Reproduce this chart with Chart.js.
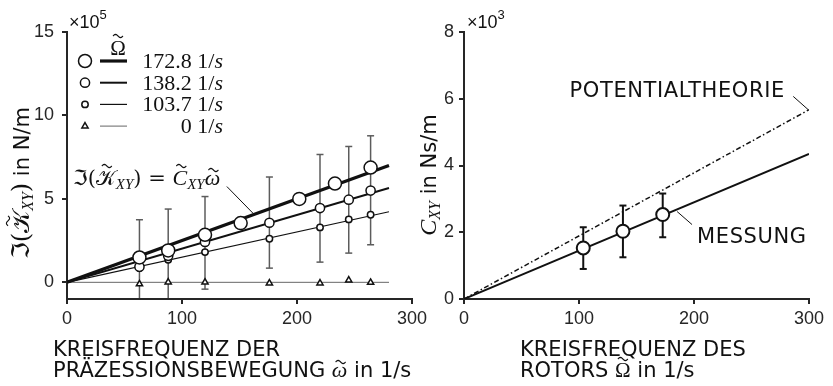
<!DOCTYPE html>
<html>
<head>
<meta charset="utf-8">
<script src="https://cdn.jsdelivr.net/npm/chart.js@4.4.1/dist/chart.umd.min.js"></script>
<style>
  html, body { margin: 0; padding: 0; background: #fff; }
  #wrap { position: relative; width: 833px; height: 386px; overflow: hidden; }
  canvas { position: absolute; top: 0; }
  #left { left: 0; width: 440px; height: 386px; }
  #right { left: 420px; width: 413px; height: 386px; }
</style>
</head>
<body>
<div id="wrap">
  <canvas id="left" width="440" height="386"></canvas>
  <canvas id="right" width="413" height="386"></canvas>
</div>
<script>
// Im(K_XY) [x10^5 N/m] over precession frequency, one set per rotor speed
const omega172 = [63, 88, 120, 151, 202, 233, 264];
const imK172   = [1.49, 1.91, 2.85, 3.55, 5.00, 5.92, 6.88];

const omega138 = [63, 88, 120, 176, 220, 245, 264];
const imK138   = [0.93, 1.59, 2.42, 3.57, 4.45, 4.95, 5.50];
const imK138Hi = [3.75, 4.39, 5.14, 6.31, 7.66, 8.14, 8.78];
const imK138Lo = [-1.90, -1.25, -0.41, 0.85, 1.21, 1.75, 2.25];

const omega104 = [63, 88, 120, 176, 220, 245, 264];
const imK104   = [0.86, 1.35, 1.81, 2.61, 3.29, 3.77, 4.05];

const omega0 = [63, 88, 120, 176, 220, 245, 264];
const imK0   = [-0.10, 0.01, 0.00, -0.05, -0.05, 0.13, -0.01];

// fitted lines Im(K) = C * omega, evaluated at 0 and 280 1/s
const fitOmega = [0, 280];
const fit172 = [0, 7.00];
const fit138 = [0, 5.65];
const fit104 = [0, 4.23];
const fit0   = [0, 0];

// C_XY [x10^3 Ns/m] over rotor speed
const rotorSpeed = [103.7, 138.2, 172.8];
const cxy   = [1.53, 2.03, 2.53];
const cxyHi = [2.15, 2.80, 3.16];
const cxyLo = [0.90, 1.25, 1.85];
const lineSpeed  = [0, 300];
const cxyMessung = [0, 4.35];
const cxyTheorie = [0, 5.67];

// tick labels
const leftXTicks  = [0, 100, 200, 300];
const leftYTicks  = [0, 5, 10, 15];
const rightXTicks = [0, 100, 200, 300];
const rightYTicks = [0, 2, 4, 6, 8];

const INK  = '#111111';
const AXIS = '#262626';
const BAR  = '#5c5c5c';
const SANS  = '"DejaVu Sans", Verdana, sans-serif';
const TICK  = '"Liberation Sans", Arial, sans-serif';
const SERIF = '"Liberation Serif", "DejaVu Serif", "DejaVu Sans", "Noto Sans", serif';
const MATH  = '"DejaVu Serif", "DejaVu Sans", "Noto Sans", serif';

const pts = (xs, ys) => xs.map((x, i) => ({ x: x, y: ys[i] }));

const series = [
  { label: '172.8', xs: omega172, ys: imK172, fit: fit172, style: 'circle',   r: 6.5, lw: 3.2, color: INK },
  { label: '138.2', xs: omega138, ys: imK138, fit: fit138, style: 'circle',   r: 4.6, lw: 2.0, color: INK },
  { label: '103.7', xs: omega104, ys: imK104, fit: fit104, style: 'circle',   r: 3.2, lw: 1.2, color: INK },
  { label: '0',     xs: omega0,   ys: imK0,   fit: fit0,   style: 'triangle', r: 3.6, lw: 1.0, color: '#666' }
];

// small wavy accent drawn above a glyph
function drawTilde(ctx, cx, cy, w) {
  ctx.save();
  ctx.strokeStyle = ctx.fillStyle;
  ctx.lineWidth = 1.1;
  ctx.beginPath();
  for (let i = 0; i <= 12; i++) {
    const t = i / 12;
    const px = cx - w / 2 + t * w;
    const py = cy - Math.sin(t * Math.PI * 2) * 1.6;
    if (i === 0) ctx.moveTo(px, py); else ctx.lineTo(px, py);
  }
  ctx.stroke();
  ctx.restore();
}

/**
 * Draw a run of text pieces with their own fonts on one baseline.
 * Pieces may carry a tilde accent: { tilde: heightAboveBaseline, tx: xShift }
 */
function drawRich(ctx, parts, x, y, align, spacing) {
  ctx.letterSpacing = (spacing || 0) + 'px';
  let w = 0;
  parts.forEach(p => { ctx.font = p.font; w += ctx.measureText(p.text).width; });
  let cx = align === 'center' ? x - w / 2 : align === 'right' ? x - w : x;
  ctx.textAlign = 'left';
  ctx.textBaseline = 'alphabetic';
  parts.forEach(p => {
    ctx.font = p.font;
    const gw = ctx.measureText(p.text).width;
    ctx.fillText(p.text, cx, y + (p.dy || 0));
    if (p.tilde) drawTilde(ctx, cx + gw / 2 + (p.tx || 0), y - p.tilde, Math.min(gw * 0.8, 10));
    cx += gw;
  });
  ctx.letterSpacing = '0px';
}

function line(ctx, x1, y1, x2, y2) {
  ctx.beginPath();
  ctx.moveTo(x1, y1);
  ctx.lineTo(x2, y2);
  ctx.stroke();
}

/**
 * Axis options: only left/bottom spines, outward ticks, fixed tick list
 */
function axisOpts(min, max, ticks, size, isX, pad) {
  return {
    type: 'linear',
    min: min,
    max: max,
    afterBuildTicks: s => { s.ticks = ticks.map(v => ({ value: v })); },
    afterFit: s => { if (isX) s.height = size; else s.width = size; },
    grid: { drawOnChartArea: false, drawTicks: true, tickLength: 5, color: AXIS, lineWidth: 2 },
    border: { display: true, color: AXIS, width: 2 },
    ticks: {
      color: AXIS,
      font: { family: TICK, size: 18 },
      padding: pad,
      maxRotation: 0,
      autoSkip: false
    }
  };
}

// vertical error bars with caps, clipped to the plot area
const errorBars = {
  id: 'errorBars',
  beforeDatasetsDraw(chart, args, o) {
    const { ctx, chartArea: a, scales: { x, y } } = chart;
    ctx.save();
    ctx.beginPath();
    ctx.rect(a.left, a.top - 2, a.width, a.height + 1);
    ctx.clip();
    ctx.strokeStyle = o.color;
    ctx.lineWidth = o.width;
    o.xs.forEach((v, i) => {
      const px = x.getPixelForValue(v);
      const top = y.getPixelForValue(o.hi[i]);
      const bot = y.getPixelForValue(o.lo[i]);
      line(ctx, px, top, px, bot);
      line(ctx, px - o.cap, top, px + o.cap, top);
      line(ctx, px - o.cap, bot, px + o.cap, bot);
    });
    ctx.restore();
  }
};

const overlay = {
  id: 'overlay',
  afterDraw(chart, args, o) { if (o.draw) o.draw(chart); }
};

const baseOptions = {
  responsive: false,
  animation: false,
  events: [],
  plugins: { legend: { display: false }, tooltip: { enabled: false } }
};

// ---------- left chart ----------
function drawLeftOverlay(chart) {
  const { ctx, scales: { x, y } } = chart;
  ctx.save();
  ctx.fillStyle = INK;
  ctx.strokeStyle = INK;

  drawRich(ctx, [
    { text: '\u00d710', font: `18px ${TICK}` },
    { text: '5', font: `13px ${TICK}`, dy: -9 }
  ], 69, 28, 'left');

  // legend
  drawRich(ctx, [{ text: '\u03a9', font: `21px ${SERIF}`, tilde: 19 }], 118, 55, 'center');
  series.forEach((s, i) => {
    const cy = 61 + i * 21.7;
    ctx.fillStyle = '#fff';
    ctx.strokeStyle = INK;
    ctx.lineWidth = 1.5;
    Chart.helpers.drawPoint(ctx, { pointStyle: s.style, radius: s.r, borderWidth: 1.5, rotation: 0 }, 85, cy);
    ctx.strokeStyle = s.color;
    ctx.lineWidth = s.lw;
    line(ctx, 100, cy, 127, cy);
    ctx.fillStyle = INK;
    drawRich(ctx, [
      { text: s.label + ' 1/', font: `22px ${SERIF}` },
      { text: 's', font: `italic 22px ${SERIF}` }
    ], 223, cy + 7, 'right');
  });

  // fit equation with leader to the 172.8 line
  drawRich(ctx, [
    { text: '\u2111(', font: `21px ${MATH}` },
    { text: '\ud835\udca6', font: `21px ${MATH}`, tilde: 19, tx: 1 },
    { text: 'XY', font: `italic 15px ${SERIF}`, dy: 4 },
    { text: ') = ', font: `21px ${MATH}` },
    { text: 'C', font: `italic 22px ${SERIF}`, tilde: 19, tx: 1.5 },
    { text: 'XY', font: `italic 15px ${SERIF}`, dy: 4 },
    { text: '\u03c9', font: `italic 22px ${SERIF}`, tilde: 15, tx: 1 }
  ], 73, 185, 'left');
  ctx.strokeStyle = INK;
  ctx.lineWidth = 1;
  line(ctx, x.getPixelForValue(139), y.getPixelForValue(5.74), x.getPixelForValue(162), y.getPixelForValue(4.12));

  // y title
  ctx.save();
  ctx.translate(29, 183);
  ctx.rotate(-Math.PI / 2);
  drawRich(ctx, [
    { text: '\u2111(', font: `24px ${MATH}` },
    { text: '\ud835\udca6', font: `24px ${MATH}`, tilde: 21, tx: 1 },
    { text: 'XY', font: `italic 16px ${SERIF}`, dy: 4 },
    { text: ')', font: `24px ${MATH}` },
    { text: ' in N/m', font: `21px ${SANS}` }
  ], 0, 0, 'center');
  ctx.restore();

  // x title
  drawRich(ctx, [{ text: 'KREISFREQUENZ DER', font: `21px ${SANS}` }], 53, 356, 'left');
  drawRich(ctx, [
    { text: 'PR\u00c4ZESSIONSBEWEGUNG ', font: `21px ${SANS}` },
    { text: '\u03c9', font: `italic 22px ${SERIF}`, tilde: 15, tx: 1 },
    { text: ' in 1/s', font: `21px ${SANS}` }
  ], 53, 377, 'left');
  ctx.restore();
}

const leftDatasets = [];
series.forEach((s, i) => {
  leftDatasets.push({
    data: pts(fitOmega, s.fit),
    showLine: true,
    borderColor: s.color,
    borderWidth: s.lw,
    pointRadius: 0,
    order: 10
  });
  leftDatasets.push({
    data: pts(s.xs, s.ys),
    showLine: false,
    pointStyle: s.style,
    pointRadius: s.r,
    pointBorderWidth: 1.5,
    pointBorderColor: INK,
    pointBackgroundColor: '#fff',
    order: i
  });
});

new Chart(document.getElementById('left'), {
  type: 'scatter',
  data: { datasets: leftDatasets },
  options: {
    ...baseOptions,
    layout: { padding: { left: 0, top: 32, right: 28, bottom: 0 } },
    scales: {
      x: axisOpts(0, 300, leftXTicks, 87, true, 4),
      y: axisOpts(-1, 15, leftYTicks, 67, false, 8)
    },
    plugins: {
      ...baseOptions.plugins,
      errorBars: { xs: omega138, hi: imK138Hi, lo: imK138Lo, color: BAR, width: 1.5, cap: 3.5 },
      overlay: { draw: drawLeftOverlay }
    }
  },
  plugins: [errorBars, overlay]
});

// ---------- right chart ----------
function drawRightOverlay(chart) {
  const { ctx, scales: { x, y } } = chart;
  ctx.save();
  ctx.fillStyle = INK;
  ctx.strokeStyle = INK;

  drawRich(ctx, [
    { text: '\u00d710', font: `18px ${TICK}` },
    { text: '3', font: `13px ${TICK}`, dy: -9 }
  ], 47, 28, 'left');

  ctx.lineWidth = 1;
  drawRich(ctx, [{ text: 'POTENTIALTHEORIE', font: `21px ${SANS}` }],
    x.getPixelForValue(279), y.getPixelForValue(6.29) + 7.5, 'right', 0.6);
  line(ctx, x.getPixelForValue(286.3), y.getPixelForValue(6.07), x.getPixelForValue(299.4), y.getPixelForValue(5.67));

  drawRich(ctx, [{ text: 'MESSUNG', font: `21px ${SANS}` }],
    x.getPixelForValue(202.7), y.getPixelForValue(1.9) + 7.5, 'left', 0.6);
  line(ctx, x.getPixelForValue(185.3), y.getPixelForValue(2.62), x.getPixelForValue(198.3), y.getPixelForValue(2.23));

  // y title
  ctx.save();
  ctx.translate(16, 175);
  ctx.rotate(-Math.PI / 2);
  drawRich(ctx, [
    { text: 'C', font: `italic 24px ${SERIF}`, tilde: 20, tx: 1.5 },
    { text: 'XY', font: `italic 16px ${SERIF}`, dy: 4 },
    { text: ' in Ns/m', font: `21px ${SANS}` }
  ], 0, 0, 'center');
  ctx.restore();

  // x title
  drawRich(ctx, [{ text: 'KREISFREQUENZ DES', font: `21px ${SANS}` }], 100, 356, 'left');
  drawRich(ctx, [
    { text: 'ROTORS ', font: `21px ${SANS}` },
    { text: '\u03a9', font: `21px ${SERIF}`, tilde: 18 },
    { text: ' in 1/s', font: `21px ${SANS}` }
  ], 100, 377, 'left');
  ctx.restore();
}

new Chart(document.getElementById('right'), {
  type: 'scatter',
  data: {
    datasets: [
      {
        data: pts(rotorSpeed, cxy),
        showLine: false,
        pointStyle: 'circle',
        pointRadius: 6.5,
        pointBorderWidth: 2,
        pointBorderColor: INK,
        pointBackgroundColor: '#fff',
        order: 0
      },
      {
        data: pts(lineSpeed, cxyMessung),
        showLine: true,
        borderColor: INK,
        borderWidth: 2,
        pointRadius: 0,
        order: 5
      },
      {
        data: pts(lineSpeed, cxyTheorie),
        showLine: true,
        borderColor: INK,
        borderWidth: 1.5,
        borderDash: [5, 2.5, 1.5, 2.5],
        pointRadius: 0,
        order: 6
      }
    ]
  },
  options: {
    ...baseOptions,
    layout: { padding: { left: 0, top: 32, right: 24, bottom: 0 } },
    scales: {
      x: axisOpts(0, 300, rightXTicks, 87, true, 4),
      y: axisOpts(0, 8, rightYTicks, 44, false, 5)
    },
    plugins: {
      ...baseOptions.plugins,
      errorBars: { xs: rotorSpeed, hi: cxyHi, lo: cxyLo, color: INK, width: 2, cap: 3.5 },
      overlay: { draw: drawRightOverlay }
    }
  },
  plugins: [errorBars, overlay]
});
</script>
</body>
</html>
